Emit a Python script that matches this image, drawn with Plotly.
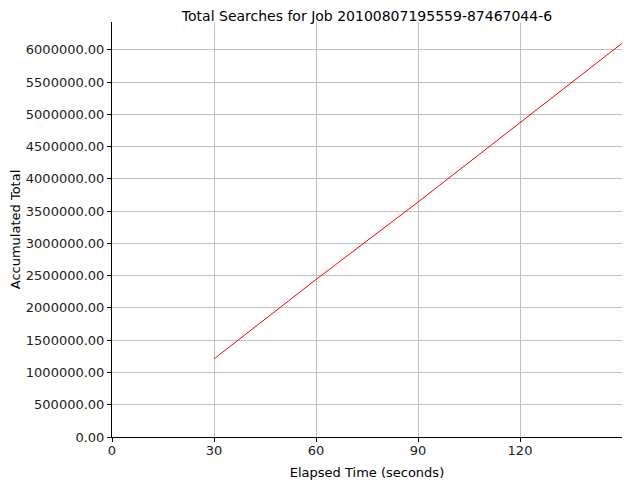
import plotly.graph_objects as go

LINE_COLOR = "#ff0000"
GRID_COLOR = "#c0c0c0"
FONT = "DejaVu Sans"

# Elapsed seconds -> accumulated searches
elapsed_s = [30, 60, 90, 120, 150]
accum_total = [1210000, 2440000, 3640000, 4870000, 6100000]

x_ticks = [0, 30, 60, 90, 120]
y_ticks = [0, 500000, 1000000, 1500000, 2000000, 2500000, 3000000,
           3500000, 4000000, 4500000, 5000000, 5500000, 6000000]

# the page body has an 8px default margin, so the figure is shrunk by that
W, H = 632, 472

fig = go.Figure()
fig.add_trace(
    go.Scatter(
        x=elapsed_s,
        y=accum_total,
        mode="lines",
        line=dict(color=LINE_COLOR, width=1),
        showlegend=False,
    )
)

axis_common = dict(
    showgrid=True,
    gridcolor=GRID_COLOR,
    gridwidth=1,
    showline=True,
    linecolor="black",
    linewidth=1,
    ticks="outside",
    ticklen=4,
    tickcolor="black",
    zeroline=False,
    automargin=False,
    tickfont=dict(family=FONT, size=13, color="#222222"),
)

fig.update_layout(
    width=W,
    height=H,
    paper_bgcolor="white",
    plot_bgcolor="white",
    margin=dict(l=104, r=18, t=14, b=43),
    title=dict(
        text="Total Searches for Job 20100807195559-87467044-6",
        font=dict(family=FONT, size=14, color="black"),
        x=359 / W,
        xanchor="center",
        y=1 - 8.5 / H,
        yanchor="middle",
        automargin=False,
    ),
    xaxis=dict(
        range=[0, 150],
        tickvals=x_ticks,
        ticklabelstandoff=-3,
        title=dict(text="Elapsed Time (seconds)", font=dict(family=FONT, size=13, color="black"), standoff=11),
        **axis_common,
    ),
    yaxis=dict(
        range=[0, 6430000],
        tickvals=y_ticks,
        tickformat=".2f",
        title=dict(text="Accumulated Total", font=dict(family=FONT, size=13, color="black"), standoff=2),
        **axis_common,
    ),
)

fig.write_html("out.html")
